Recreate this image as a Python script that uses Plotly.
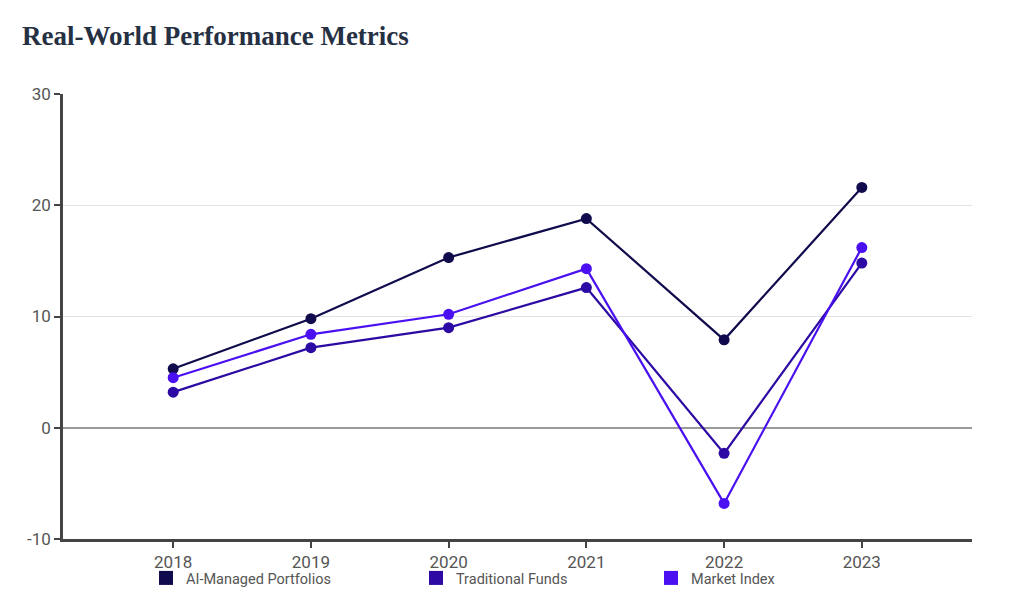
"""Real-World Performance Metrics line chart."""
import plotly.graph_objects as go

years = ["2018", "2019", "2020", "2021", "2022", "2023"]
ai_managed = [5.3, 9.8, 15.3, 18.8, 7.9, 21.6]
traditional = [3.2, 7.2, 9.0, 12.6, -2.3, 14.8]
market_index = [4.5, 8.4, 10.2, 14.3, -6.8, 16.2]

y_ticks = [-10, 0, 10, 20, 30]
y_tick_labels = ["-10", "0", "10", "20", "30"]

series_names = ["AI-Managed Portfolios", "Traditional Funds", "Market Index"]
colors = ["#0f0b4c", "#2c0aa3", "#4a10f2"]

# page body has an 8px margin, so the figure is a bit smaller than the window
W, H = 1008, 593
AXIS = "#444444"
TICK_FONT = dict(family="Roboto, Arial, sans-serif", size=17, color="#555555")

fig = go.Figure()

for name, vals, color in zip(series_names, [ai_managed, traditional, market_index], colors):
    fig.add_trace(
        go.Scatter(
            x=years,
            y=vals,
            mode="lines+markers",
            name=name,
            line=dict(color=color, width=2.2),
            marker=dict(color=color, size=11),
            showlegend=False,
        )
    )

# legend swatches, one legend each so they can sit where the reference puts them
legend_x = [138, 408, 643]
for i, (name, color) in enumerate(zip(series_names, colors)):
    lg = "legend" if i == 0 else f"legend{i + 1}"
    fig.add_trace(
        go.Scatter(
            x=[None],
            y=[None],
            mode="markers",
            name=name,
            marker=dict(symbol="square", size=14, color=color, line=dict(width=0)),
            legend=lg,
        )
    )

legend_style = dict(
    orientation="h",
    xref="container",
    yref="container",
    yanchor="middle",
    xanchor="left",
    y=1 - 570 / H,
    bgcolor="rgba(0,0,0,0)",
    font=dict(family="Roboto, Arial, sans-serif", size=14.5, color="#555555"),
    itemwidth=30,
)

fig.update_layout(
    width=W,
    height=H,
    margin=dict(l=55, r=44, t=86, b=62, autoexpand=False),
    paper_bgcolor="white",
    plot_bgcolor="white",
    title=dict(
        text="<b>Real-World Performance Metrics</b>",
        x=14 / W,
        xref="container",
        xanchor="left",
        y=1 - 28 / H,
        yref="container",
        yanchor="middle",
        font=dict(family="Liberation Serif, DejaVu Serif, serif", size=27, color="#263043"),
    ),
    legend=dict(legend_style, x=legend_x[0] / W),
    legend2=dict(legend_style, x=legend_x[1] / W),
    legend3=dict(legend_style, x=legend_x[2] / W),
    xaxis=dict(
        type="category",
        range=[-0.8, 5.8],
        showline=True,
        linecolor=AXIS,
        linewidth=2.5,
        ticks="outside",
        ticklen=6,
        tickwidth=2,
        tickcolor=AXIS,
        showgrid=False,
        tickfont=TICK_FONT,
    ),
    yaxis=dict(
        range=[-10, 30],
        tickvals=y_ticks,
        ticktext=y_tick_labels,
        showline=True,
        linecolor=AXIS,
        linewidth=2.5,
        ticks="outside",
        ticklen=6,
        tickwidth=2,
        tickcolor=AXIS,
        gridcolor="#e2e2e2",
        gridwidth=1,
        zeroline=True,
        zerolinecolor="#9a9a9a",
        zerolinewidth=1.5,
        tickfont=TICK_FONT,
    ),
)

fig.write_html("out.html")
